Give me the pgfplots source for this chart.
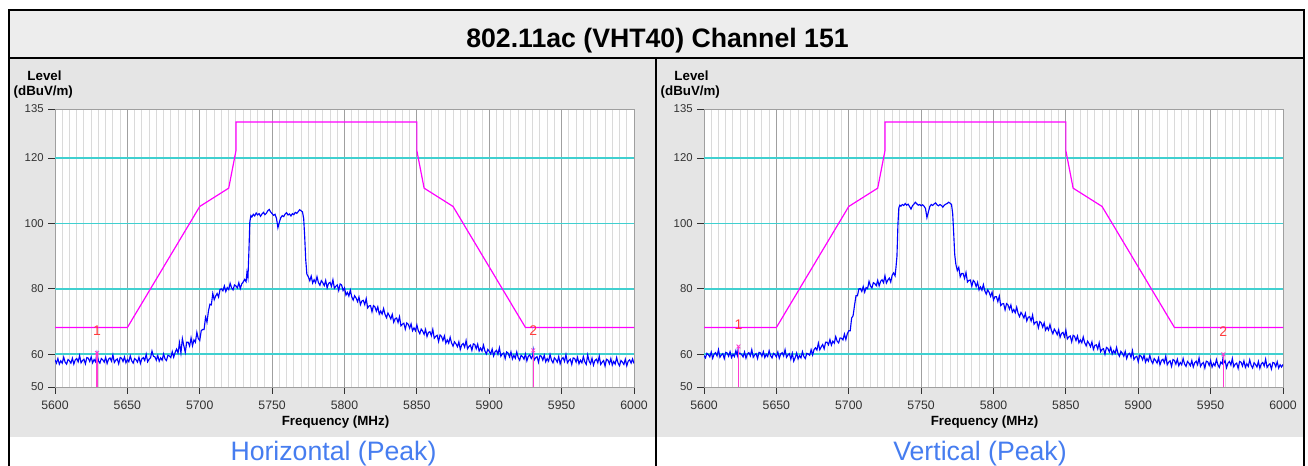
\documentclass[border=0pt]{standalone}
\usepackage{pgfplots}
\pgfplotsset{compat=1.18}
\usepackage{fontspec}
\setmainfont{Liberation Sans}

\definecolor{titlegray}{RGB}{237,237,237}
\definecolor{panelgray}{RGB}{229,229,229}
\definecolor{gridmaj}{RGB}{160,160,160}
\definecolor{gridmin}{RGB}{218,218,218}
\definecolor{levelcyan}{RGB}{64,208,208}
\definecolor{tracecol}{RGB}{0,0,255}
\definecolor{limitcol}{RGB}{255,0,255}
\definecolor{markercol}{RGB}{255,60,210}
\definecolor{mklabel}{RGB}{255,60,60}
\definecolor{captionblue}{RGB}{70,125,240}
\definecolor{ticktext}{RGB}{50,50,50}

\tikzset{
  mklab/.style={text=mklabel, font=\fontsize{10.5}{12}\selectfont, inner sep=0pt},
}

\pgfplotsset{
  emcaxis/.style={
    scale only axis, width=434.25pt, height=208.5pt, anchor=south west,
    xmin=5600, xmax=6000, ymin=50, ymax=135,
    axis background/.style={fill=white},
    axis line style={draw=gray!75, line width=0.75pt},
    tick align=outside, tick pos=left,
    major tick length=5pt,
    minor tick length=0pt,
    tick style={draw=ticktext, line width=0.75pt},
    xtick={5600,5650,...,6000},
    xticklabels={5600,5650,5700,5750,5800,5850,5900,5950,6000},
    minor x tick num=9,
    xmajorgrids, xminorgrids,
    major grid style={draw=gridmaj, line width=0.75pt},
    minor grid style={draw=gridmin, line width=0.75pt},
    ytick={50,60,80,100,120,135},
    yticklabels={50,60,80,100,120,135},
    extra y ticks={60,80,100,120},
    extra y tick labels={},
    extra y tick style={grid=major, major tick length=0pt,
      major grid style={draw=levelcyan, line width=1.3pt}},
    xticklabel style={font=\fontsize{9.2}{10}\selectfont, text=ticktext, yshift=-2pt},
    yticklabel style={font=\fontsize{8.5}{10}\selectfont, text=ticktext},
  },
  trace/.style={draw=tracecol, line width=0.85pt, no markers},
  limit/.style={draw=limitcol, line width=0.9pt, no markers},
  mkline/.style={draw=markercol, line width=0.8pt, mark=x, mark size=2pt,
    mark indices={2}, mark options={draw=markercol, line width=0.6pt}},
}

\begin{document}
\begin{tikzpicture}
\begin{scope}[x=0.75pt,y=-0.75pt]
  \useasboundingbox (0,0) rectangle (1308,466);
  \fill[white] (0,0) rectangle (1308,466);
  \fill[titlegray] (9,10) rectangle (1304,59);
  \fill[panelgray] (9,59) rectangle (1304,437);
  \draw[black, line width=1.5pt] (9,466) -- (9,10) -- (1304,10) -- (1304,466);
  \draw[black, line width=1.5pt] (9,58) -- (1304,58);
  \draw[black, line width=1.5pt] (656,58) -- (656,466);
  \node[font=\bfseries\fontsize{20}{22}\selectfont] at (657.5,41) {802.11ac (VHT40) Channel 151};
  % axis captions, left panel
  \node[font=\bfseries\fontsize{10}{12}\selectfont] at (44.5,76) {Level};
  \node[font=\bfseries\fontsize{10}{12}\selectfont] at (43.3,92.5) {(dBuV/m)};
  \node[font=\bfseries\fontsize{10}{12}\selectfont] at (335.5,421.7) {Frequency (MHz)};
  % axis captions, right panel
  \node[font=\bfseries\fontsize{10}{12}\selectfont] at (691.5,76) {Level};
  \node[font=\bfseries\fontsize{10}{12}\selectfont] at (690.3,92.5) {(dBuV/m)};
  \node[font=\bfseries\fontsize{10}{12}\selectfont] at (984.5,421.7) {Frequency (MHz)};
  % polarisation captions
  \node[text=captionblue, font=\fontsize{20}{22}\selectfont] at (333.5,453.5) {Horizontal (Peak)};
  \node[text=captionblue, font=\fontsize{20}{22}\selectfont] at (980,453.5) {Vertical (Peak)};
\end{scope}

% ---------------- Horizontal polarisation ----------------
\begin{axis}[emcaxis, at={(41.25pt,-290.25pt)}]
\addplot[trace] coordinates {
(5600,58.3)(5601,57.3)(5602,58.7)(5603,57.0)(5604,58.0)(5605,57.3)(5606,59.1)(5607,57.6)(5608,57.0)(5609,58.4)
(5610,58.0)(5611,57.3)(5612,58.8)(5613,57.0)(5614,58.3)(5615,58.7)(5616,57.7)(5617,59.6)(5618,57.4)(5619,58.1)
(5620,58.5)(5621,57.1)(5622,59.0)(5623,58.8)(5624,57.8)(5625,59.2)(5626,57.4)(5627,58.4)(5628,57.7)(5629,60.4)
(5630,58.0)(5631,57.3)(5632,58.7)(5633,58.3)(5634,57.6)(5635,59.1)(5636,57.2)(5637,58.5)(5638,58.9)(5639,57.9)
(5640,59.8)(5641,57.5)(5642,58.2)(5643,58.6)(5644,57.1)(5645,59.0)(5646,58.8)(5647,57.8)(5648,59.2)(5649,57.4)
(5650,58.4)(5651,57.7)(5652,59.5)(5653,58.0)(5654,57.3)(5655,58.7)(5656,58.3)(5657,57.6)(5658,59.1)(5659,57.2)
(5660,58.6)(5661,59.0)(5662,58.1)(5663,60.0)(5664,57.7)(5665,58.5)(5666,58.9)(5667,61.0)(5668,59.4)(5669,59.2)
(5670,58.2)(5671,59.6)(5672,57.9)(5673,58.9)(5674,58.2)(5675,60.1)(5676,58.6)(5677,58.1)(5678,59.7)(5679,59.5)
(5680,59.0)(5681,60.8)(5682,59.1)(5683,60.6)(5684,61.6)(5685,60.4)(5686,63.5)(5687,60.4)(5688,64.8)(5689,62.6)
(5690,60.6)(5691,63.7)(5692,63.7)(5693,62.5)(5694,65.0)(5695,62.6)(5696,64.4)(5697,63.7)(5698,66.7)(5699,64.8)
(5700,64.2)(5701,67.2)(5702,67.6)(5703,67.6)(5704,71.3)(5705,69.8)(5706,73.2)(5707,75.3)(5708,75.1)(5709,78.6)
(5710,76.7)(5711,77.8)(5712,78.6)(5713,77.5)(5714,79.8)(5715,80.0)(5716,79.4)(5717,80.9)(5718,79.2)(5719,80.4)
(5720,79.8)(5721,81.7)(5722,80.3)(5723,79.7)(5724,81.2)(5725,80.9)(5726,80.3)(5727,81.9)(5728,80.1)(5729,81.5)
(5730,82.1)(5731,82.9)(5732,82.2)(5732.6,85.0)(5733.3,83.4)(5734,92.0)(5734.6,100.5)(5735.3,102.4)
(5736,102.0)(5737,102.8)(5738,102.3)(5739,103.2)(5740,102.6)(5741,103.0)(5742,102.2)(5743,102.9)
(5744,103.4)(5745,102.7)(5746,103.1)(5747,103.9)(5748,104.3)(5749,103.5)(5750,103.0)(5751,102.5)
(5752,102.8)(5753,101.6)(5754,98.7)(5755,100.4)(5756,101.8)(5757,102.4)(5758,102.1)(5759,102.9)
(5760,103.3)(5761,102.6)(5762,102.9)(5763,102.3)(5764,103.0)(5765,102.7)(5766,103.4)(5767,103.1)
(5768,103.6)(5769,104.2)(5770,103.9)(5771,103.5)(5771.8,101.5)(5772.5,96.0)(5773.2,89.0)(5774,84.5)
(5775,83.7)(5776,82.5)(5777,83.9)(5778,81.8)(5779,82.8)(5780,81.9)(5781,83.7)(5782,81.9)(5783,81.1)(5784,82.5)
(5785,81.9)(5786,81.0)(5787,82.6)(5788,80.3)(5789,81.7)(5790,82.0)(5791,80.8)(5792,82.8)(5793,80.2)(5794,80.8)
(5795,81.2)(5796,79.5)(5797,81.5)(5798,81.2)(5799,79.5)(5800,80.3)(5801,78.1)(5802,78.9)(5803,77.8)(5804,79.6)
(5805,77.6)(5806,76.6)(5807,77.9)(5808,77.2)(5809,76.1)(5810,77.5)(5811,75.2)(5812,76.3)(5813,76.5)(5814,75.2)
(5815,77.0)(5816,74.2)(5817,74.8)(5818,74.9)(5819,73.0)(5820,74.9)(5821,74.5)(5822,73.2)(5823,74.5)(5824,72.3)
(5825,73.2)(5826,72.3)(5827,74.0)(5828,72.2)(5829,71.2)(5830,72.6)(5831,71.8)(5832,70.8)(5833,72.2)(5834,69.8)
(5835,70.9)(5836,71.1)(5837,69.7)(5838,71.5)(5839,68.7)(5840,69.2)(5841,69.5)(5842,67.7)(5843,69.6)(5844,69.2)
(5845,68.0)(5846,69.3)(5847,67.2)(5848,68.1)(5849,67.2)(5850,69.0)(5851,67.2)(5852,66.3)(5853,67.7)(5854,67.1)
(5855,66.1)(5856,67.6)(5857,65.4)(5858,66.7)(5859,66.9)(5860,65.7)(5861,67.6)(5862,64.9)(5863,65.5)(5864,65.8)
(5865,63.9)(5866,65.9)(5867,65.5)(5868,64.2)(5869,65.6)(5870,63.4)(5871,64.4)(5872,63.4)(5873,65.2)(5874,63.4)
(5875,62.5)(5876,63.8)(5877,63.2)(5878,62.3)(5879,63.8)(5880,61.5)(5881,62.9)(5882,63.3)(5883,62.2)(5884,64.2)
(5885,61.7)(5886,62.4)(5887,62.8)(5888,61.2)(5889,63.2)(5890,63.0)(5891,61.7)(5892,63.1)(5893,61.0)(5894,61.9)
(5895,61.0)(5896,62.8)(5897,61.0)(5898,60.1)(5899,61.5)(5900,60.9)(5901,60.1)(5902,61.6)(5903,59.5)(5904,60.8)
(5905,61.2)(5906,60.0)(5907,62.0)(5908,59.4)(5909,60.1)(5910,60.4)(5911,58.7)(5912,60.7)(5913,60.4)(5914,59.2)
(5915,60.7)(5916,58.6)(5917,59.7)(5918,58.8)(5919,60.7)(5920,59.0)(5921,58.2)(5922,59.7)(5923,59.3)(5924,58.5)
(5925,60.1)(5926,58.0)(5927,59.4)(5928,59.8)(5929,58.7)(5930,59.5)(5930.4,61.0)(5931,58.2)(5932,58.9)(5933,59.3)
(5934,57.6)(5935,59.6)(5936,59.4)(5937,58.2)(5938,59.7)(5939,57.7)(5940,58.7)(5941,57.9)(5942,59.9)(5943,58.2)
(5944,57.4)(5945,58.9)(5946,58.4)(5947,57.6)(5948,59.3)(5949,57.1)(5950,58.5)(5951,59.0)(5952,57.8)(5953,59.9)
(5954,57.4)(5955,58.1)(5956,58.5)(5957,56.9)(5958,58.9)(5959,58.7)(5960,57.6)(5961,59.1)(5962,57.1)(5963,58.2)
(5964,57.4)(5965,59.3)(5966,57.7)(5967,56.9)(5968,59.8)(5969,57.9)(5970,57.1)(5971,58.8)(5972,56.7)(5973,58.1)
(5974,58.5)(5975,57.4)(5976,59.4)(5977,56.9)(5978,57.6)(5979,58.1)(5980,56.4)(5981,58.5)(5982,58.2)(5983,57.1)
(5984,58.7)(5985,56.7)(5986,57.8)(5987,57.0)(5988,59.0)(5989,57.3)(5990,56.5)(5991,58.1)(5992,57.6)(5993,56.9)
(5994,58.5)(5995,56.5)(5996,57.9)(5997,58.3)(5998,57.3)(5999,58.6)(6000,57.2)
};
\addplot[limit] coordinates {
(5600,68.2)(5650,68.2)(5700,105.2)(5720,110.8)(5725,122.2)(5725,131)
(5850,131)(5850,122.2)(5855,110.8)(5875,105.2)(5925,68.2)(6000,68.2)
};
\addplot[mkline] coordinates {(5629,50)(5629,60.4)};
\addplot[mkline] coordinates {(5930.4,50)(5930.4,61.2)};
\node[mklab] at (axis cs:5629,67.3) {1};
\node[mklab] at (axis cs:5930.4,67.2) {2};
\end{axis}

% ---------------- Vertical polarisation ----------------
\begin{axis}[emcaxis, at={(528pt,-290.25pt)}]
\addplot[trace] coordinates {
(5600,59.6)(5601,58.9)(5602,60.3)(5603,59.9)(5604,59.2)(5605,60.7)(5606,58.8)(5607,60.1)(5608,60.5)(5609,59.5)
(5610,61.4)(5611,59.1)(5612,59.8)(5613,60.2)(5614,58.7)(5615,60.6)(5616,60.4)(5617,59.4)(5618,60.8)(5619,59.0)
(5620,60.0)(5621,59.3)(5622,61.1)(5623,59.6)(5623.8,62.4)(5624,60.2)(5625,60.3)(5626,59.9)(5627,59.2)(5628,60.7)
(5629,58.8)(5630,60.1)(5631,60.5)(5632,59.5)(5633,61.4)(5634,59.1)(5635,59.8)(5636,60.2)(5637,58.7)(5638,60.6)
(5639,60.4)(5640,59.4)(5641,60.8)(5642,59.0)(5643,60.0)(5644,59.3)(5645,61.1)(5646,59.6)(5647,58.9)(5648,60.3)
(5649,59.9)(5650,59.2)(5651,60.7)(5652,58.8)(5653,60.1)(5654,60.5)(5655,59.5)(5656,61.4)(5657,59.1)(5658,59.8)
(5659,60.2)(5660,58.5)(5661,60.3)(5662,57.9)(5663,59.0)(5664,60.4)(5665,58.6)(5666,59.6)(5667,58.9)(5668,60.8)
(5669,59.3)(5670,58.7)(5671,60.3)(5672,60.1)(5673,59.7)(5674,61.4)(5675,59.8)(5676,61.4)(5677,62.0)(5678,61.3)
(5679,63.4)(5680,61.4)(5681,62.3)(5682,63.0)(5683,61.7)(5684,63.7)(5685,63.7)(5686,62.9)(5687,64.5)(5688,62.8)
(5689,64.0)(5690,63.4)(5691,65.4)(5692,64.0)(5693,63.5)(5694,65.0)(5695,64.9)(5696,64.4)(5697,66.2)(5698,64.5)
(5699,66.3)(5700,67.2)(5701,67.2)(5702,71.1)(5703,71.8)(5704,75.0)(5705,77.9)(5706,77.9)(5707,80.0)(5708,80.1)
(5709,79.2)(5710,80.7)(5711,79.0)(5712,80.4)(5713,80.1)(5714,82.3)(5715,80.9)(5716,80.3)(5717,81.9)(5718,81.6)
(5719,81.0)(5720,82.6)(5721,80.9)(5722,82.3)(5723,82.8)(5724,81.9)(5725,84.0)(5726,81.8)(5727,82.7)(5728,83.3)
(5729,82.1)(5730,84.2)(5731,84.9)(5732,84.0)(5732.6,86.5)(5733.3,90.0)(5734,100.0)(5734.6,104.8)
(5735.3,105.6)(5736,105.3)(5737,105.8)(5738,105.5)(5739,106.1)(5740,105.6)(5741,105.9)
(5742,105.2)(5743,104.4)(5744,105.4)(5745,105.9)(5746,106.5)(5747,106.0)(5748,105.6)
(5749,105.8)(5750,105.4)(5751,105.7)(5752,105.3)(5753,104.6)(5754,101.8)(5755,103.5)
(5756,105.2)(5757,105.8)(5758,105.5)(5759,106.0)(5760,106.3)(5761,105.7)(5762,105.4)
(5763,105.8)(5764,105.5)(5765,105.0)(5766,105.6)(5767,105.9)(5768,106.1)(5769,106.5)
(5770,106.2)(5771,105.8)(5771.8,103.0)(5772.5,97.0)(5773.2,90.5)(5774,87.5)
(5775,85.6)(5776,86.6)(5777,83.7)(5778,84.7)(5779,84.7)(5780,83.2)(5781,85.0)(5782,82.1)(5783,82.6)(5784,82.7)
(5785,80.8)(5786,82.6)(5787,82.1)(5788,80.7)(5789,82.0)(5790,79.7)(5791,80.6)(5792,79.6)(5793,81.3)(5794,79.4)
(5795,78.4)(5796,79.7)(5797,78.9)(5798,77.7)(5799,79.0)(5800,76.6)(5801,77.6)(5802,77.6)(5803,76.1)(5804,77.8)
(5805,74.9)(5806,75.4)(5807,75.5)(5808,73.6)(5809,75.5)(5810,75.1)(5811,73.8)(5812,75.1)(5813,72.9)(5814,73.7)
(5815,72.7)(5816,74.4)(5817,72.5)(5818,71.5)(5819,72.8)(5820,72.1)(5821,71.1)(5822,72.5)(5823,70.2)(5824,71.3)
(5825,71.5)(5826,70.2)(5827,72.0)(5828,69.2)(5829,69.8)(5830,70.0)(5831,68.1)(5832,70.0)(5833,69.6)(5834,68.3)
(5835,69.6)(5836,67.4)(5837,68.3)(5838,67.4)(5839,69.1)(5840,67.3)(5841,66.3)(5842,67.7)(5843,67.0)(5844,66.0)
(5845,67.5)(5846,65.2)(5847,66.4)(5848,66.7)(5849,65.4)(5850,67.4)(5851,64.7)(5852,65.3)(5853,65.6)(5854,63.8)
(5855,65.8)(5856,65.5)(5857,64.2)(5858,65.6)(5859,63.5)(5860,64.4)(5861,63.5)(5862,65.3)(5863,63.5)(5864,62.6)
(5865,64.0)(5866,63.3)(5867,62.3)(5868,63.8)(5869,61.5)(5870,62.7)(5871,62.9)(5872,61.6)(5873,63.5)(5874,60.8)
(5875,61.5)(5876,61.7)(5877,60.0)(5878,62.1)(5879,61.8)(5880,60.7)(5881,62.1)(5882,60.1)(5883,61.1)(5884,60.3)
(5885,62.1)(5886,60.3)(5887,59.4)(5888,60.9)(5889,60.3)(5890,59.4)(5891,60.9)(5892,58.7)(5893,60.0)(5894,60.3)
(5895,59.1)(5896,61.1)(5897,58.4)(5898,59.1)(5899,59.4)(5900,57.7)(5901,59.7)(5902,59.4)(5903,58.3)(5904,59.7)
(5905,57.6)(5906,58.7)(5907,57.9)(5908,59.7)(5909,58.0)(5910,57.2)(5911,58.7)(5912,58.1)(5913,57.3)(5914,58.9)
(5915,56.8)(5916,58.1)(5917,58.5)(5918,57.4)(5919,59.4)(5920,56.8)(5921,57.6)(5922,58.0)(5923,56.3)(5924,58.4)
(5925,58.1)(5926,57.0)(5927,58.5)(5928,56.5)(5929,57.5)(5930,56.8)(5931,58.7)(5932,57.0)(5933,56.3)(5934,57.8)
(5935,57.3)(5936,56.5)(5937,58.1)(5938,56.1)(5939,57.4)(5940,57.9)(5941,56.8)(5942,58.9)(5943,56.3)(5944,57.1)
(5945,57.5)(5946,55.8)(5947,57.9)(5948,57.7)(5949,56.6)(5950,58.1)(5951,56.1)(5952,57.2)(5953,56.5)(5954,58.4)
(5955,56.8)(5956,56.0)(5957,57.6)(5958,57.1)(5958.8,59.9)(5959,57.3)(5960,58.0)(5961,55.9)(5962,57.3)(5963,57.8)
(5964,56.7)(5965,58.7)(5966,56.2)(5967,57.0)(5968,57.3)(5969,55.7)(5970,57.8)(5971,57.6)(5972,56.4)(5973,58.0)
(5974,56.0)(5975,57.1)(5976,56.3)(5977,58.3)(5978,56.6)(5979,55.8)(5980,57.4)(5981,56.9)(5982,56.1)(5983,57.8)
(5984,55.7)(5985,57.1)(5986,57.5)(5987,56.4)(5988,58.5)(5989,56.0)(5990,56.7)(5991,57.1)(5992,55.5)(5993,57.5)
(5994,57.3)(5995,56.2)(5996,57.7)(5997,55.8)(5998,56.8)(5999,56.1)(6000,56.9)
};
\addplot[limit] coordinates {
(5600,68.2)(5650,68.2)(5700,105.2)(5720,110.8)(5725,122.2)(5725,131)
(5850,131)(5850,122.2)(5855,110.8)(5875,105.2)(5925,68.2)(6000,68.2)
};
\addplot[mkline] coordinates {(5623.8,50)(5623.8,62.4)};
\addplot[mkline] coordinates {(5958.8,50)(5958.8,60.0)};
\node[mklab] at (axis cs:5623.8,69.1) {1};
\node[mklab] at (axis cs:5958.8,66.8) {2};
\end{axis}
\end{tikzpicture}
\end{document}
